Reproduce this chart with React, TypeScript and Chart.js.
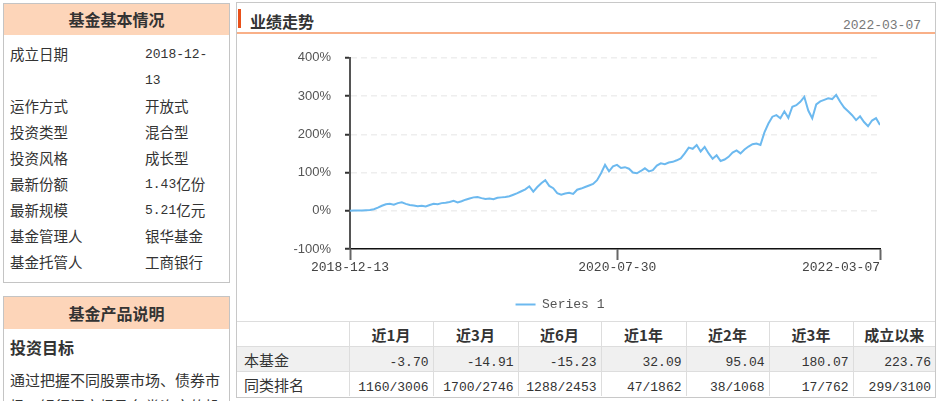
import React, { useEffect, useRef } from 'react';
import { Chart, registerables } from 'chart.js';

Chart.register(...registerables);

// ---------- data ----------
const seriesLabel = 'Series 1';
const startDate = '2018-12-13';
const endDate = '2022-03-07';
const xTickLabels = ['2018-12-13', '2020-07-30', '2022-03-07'];
const yMin = -100;
const yMax = 400;
const yStep = 100;

// cumulative return (%) since inception, sampled evenly over the period
const cumulativeReturn = [
  0, 0.5, 0.5, 1, 1.5, 2, 4, 8, 13, 17, 18, 16, 20, 22, 18, 15, 14, 12, 13, 11,
  15, 18, 17, 20, 21, 23, 26, 22, 25, 29, 32, 35, 36, 33, 31, 32, 30, 34, 35, 36,
  38, 42, 46, 51, 56, 64, 50, 62, 72, 80, 65, 59, 46, 42, 45, 47, 44, 55, 58, 62,
  66, 70, 80, 98, 120, 103, 116, 120, 112, 114, 110, 100, 98, 104, 111, 103, 106, 118, 124, 122,
  126, 128, 132, 137, 150, 165, 162, 172, 155, 167, 150, 136, 145, 130, 134, 141, 152, 158, 150, 160,
  168, 174, 176, 172, 205, 228, 246, 250, 242, 260, 243, 272, 276, 285, 298, 262, 242, 278, 286, 290,
  294, 292, 303, 285, 270, 260, 250, 237, 247, 232, 221, 236, 242, 224,
];

const basicInfoLabels = ['成立日期', '运作方式', '投资类型', '投资风格', '最新份额', '最新规模', '基金管理人', '基金托管人'];
const basicInfoValues = ['2018-12-13', '开放式', '混合型', '成长型', '1.43亿份', '5.21亿元', '银华基金', '工商银行'];

const periodLabels = ['近1月', '近3月', '近6月', '近1年', '近2年', '近3年', '成立以来'];
const rowLabels = ['本基金', '同类排名'];
const fundReturns = ['-3.70', '-14.91', '-15.23', '32.09', '95.04', '180.07', '223.76'];
const peerRanks = ['1160/3006', '1700/2746', '1288/2453', '47/1862', '38/1068', '17/762', '299/3100'];

const updateDate = '2022-03-07';
const descTitle = '投资目标';
const descText = '通过把握不同股票市场、债券市场、银行间市场及各类资产的投资机会，力求实现基金资产的长期稳健增值。';

// ---------- styles ----------
const mono = '"Liberation Mono", "DejaVu Sans Mono", monospace';
const cjk = '"Noto Sans CJK SC", "Noto Sans", sans-serif';
const peach = '#fdd5b9';
const lineColor = '#6cb9ef';

function Mixed({
  text,
  cjkSize = 15,
  monoSize = 13,
  top = false,
}: {
  text: string;
  cjkSize?: number;
  monoSize?: number;
  top?: boolean;
}) {
  const parts = text.split(/([\x20-\x7e]+)/).filter((p) => p.length > 0);
  const extra: React.CSSProperties = top ? { verticalAlign: 'top', lineHeight: '26px' } : {};
  return (
    <>
      {parts.map((p, i) =>
        /^[\x20-\x7e]+$/.test(p) ? (
          <span
            key={i}
            style={{ fontFamily: mono, fontSize: monoSize, ...extra, ...(top ? { position: 'relative', top: 1 } : {}) }}
          >
            {p}
          </span>
        ) : (
          <span key={i} style={{ fontFamily: cjk, fontSize: cjkSize, ...extra }}>{p}</span>
        )
      )}
    </>
  );
}

const dayMs = 86400000;
const toDays = (s: string) => Date.parse(s) / dayMs;
const N = cumulativeReturn.length;
const spanDays = toDays(endDate) - toDays(startDate);
const tickValues = xTickLabels.map((s) => ((toDays(s) - toDays(startDate)) / spanDays) * (N - 1));

const xLabelPlugin = {
  id: 'xTickText',
  afterDraw(chart: any) {
    const scale = chart.scales.x;
    const ctx = chart.ctx;
    ctx.save();
    ctx.font = '13px "Liberation Mono", monospace';
    ctx.fillStyle = '#444';
    ctx.textBaseline = 'middle';
    tickValues.forEach((v, i) => {
      const px = scale.getPixelForValue(v);
      ctx.textAlign = i === tickValues.length - 1 ? 'right' : 'center';
      ctx.fillText(xTickLabels[i], px, scale.top + 19);
    });
    ctx.restore();
  },
};

function PerfChart() {
  const ref = useRef<HTMLCanvasElement | null>(null);
  useEffect(() => {
    if (!ref.current) return;
    const chart = new Chart(ref.current, {
      type: 'line',
      data: {
        labels: cumulativeReturn.map((_, i) => i),
        datasets: [
          {
            label: seriesLabel,
            data: cumulativeReturn,
            borderColor: lineColor,
            backgroundColor: lineColor,
            borderWidth: 2,
            pointRadius: 0,
            tension: 0,
          },
        ],
      },
      options: {
        animation: false,
        responsive: false,
        maintainAspectRatio: false,
        layout: { padding: { top: 20, left: 0, right: 55, bottom: 0 } },
        plugins: {
          tooltip: { enabled: false },
          legend: {
            position: 'bottom',
            labels: {
              boxWidth: 20,
              boxHeight: 2,
              padding: 6,
              color: '#555',
              font: { family: '"Liberation Mono", monospace', size: 13 },
              generateLabels: (c: any) =>
                (Chart as any).defaults.plugins.legend.labels
                  .generateLabels(c)
                  .map((l: any) => ({ ...l, lineWidth: 0, fillStyle: lineColor })),
            },
          },
        },
        scales: {
          x: {
            type: 'linear',
            min: 0,
            max: N - 1,
            afterBuildTicks: (s: any) => {
              s.ticks = tickValues.map((v) => ({ value: v }));
            },
            afterFit: (s: any) => {
              s.height = 43;
            },
            ticks: { display: false },
            grid: { drawOnChartArea: false, drawTicks: true, tickLength: 11, tickColor: '#666', tickWidth: 2 },
            border: { color: '#111', width: 1.5 },
          },
          y: {
            min: yMin,
            max: yMax,
            afterFit: (s: any) => {
              s.width = 110;
            },
            ticks: {
              stepSize: yStep,
              callback: (v: any) => v + '%',
              color: '#555',
              font: { family: '"Liberation Sans", Arial, sans-serif', size: 13 },
              padding: 14,
            },
            grid: { color: '#eee', lineWidth: 1.5, tickColor: '#333', tickWidth: 2, tickLength: 5 },
            border: { color: '#555', width: 2, dash: [6, 4] },
          },
        },
      } as any,
      plugins: [xLabelPlugin],
    });
    return () => chart.destroy();
  }, []);
  return (
    <canvas
      ref={ref}
      width={695}
      height={285}
      style={{ position: 'absolute', left: 240, top: 36, width: 695, height: 285, pointerEvents: 'none' }}
    />
  );
}

const colWidths = [112, 84, 85, 83, 85, 83, 84, 82];

export default function App() {
  const cell: React.CSSProperties = {
    border: '1px solid #ddd',
    padding: 0,
    height: 24,
    color: '#333',
  };
  return (
    <div
      style={{
        position: 'absolute',
        left: 0,
        top: 0,
        width: 940,
        height: 401,
        overflow: 'hidden',
        background: '#fff',
        color: '#333',
        fontFamily: cjk,
      }}
    >
      {/* left box 1 */}
      <div
        style={{
          position: 'absolute',
          left: 3,
          top: 3,
          width: 227,
          height: 280,
          boxSizing: 'border-box',
          border: '1px solid #c4c4c4',
        }}
      >
        <div
          style={{
            height: 31,
            lineHeight: '31px',
            background: peach,
            textAlign: 'center',
            fontWeight: 'bold',
            fontSize: 16,
          }}
        >
          基金基本情况
        </div>
        <div style={{ paddingTop: 6 }}>
          {basicInfoLabels.map((lab, i) => (
            <div key={lab} style={{ display: 'flex', lineHeight: '26px' }}>
              <div style={{ width: 141, paddingLeft: 6, boxSizing: 'border-box', fontSize: 14.5, height: 26 }}>{lab}</div>
              <div style={{ width: 68, wordBreak: 'break-all', fontSize: 13 }}>
                <Mixed text={basicInfoValues[i]} cjkSize={14.5} top />
              </div>
            </div>
          ))}
        </div>
      </div>

      {/* left box 2 */}
      <div
        style={{
          position: 'absolute',
          left: 3,
          top: 296,
          width: 227,
          height: 140,
          boxSizing: 'border-box',
          border: '1px solid #c4c4c4',
        }}
      >
        <div
          style={{
            height: 32,
            lineHeight: '32px',
            background: peach,
            textAlign: 'center',
            fontWeight: 'bold',
            fontSize: 16,
          }}
        >
          基金产品说明
        </div>
        <div style={{ marginTop: 5, paddingLeft: 6, lineHeight: '26px', fontWeight: 'bold', fontSize: 16 }}>{descTitle}</div>
        <div style={{ marginTop: 7, padding: '0 6px', lineHeight: '26px', fontSize: 15 }}>{descText}</div>
      </div>

      {/* right panel */}
      <div
        style={{
          position: 'absolute',
          left: 236,
          top: 2,
          width: 700,
          height: 396,
          boxSizing: 'border-box',
          border: '1px solid #c8c8c8',
        }}
      />
      <div style={{ position: 'absolute', left: 238, top: 9, width: 3, height: 19, background: '#e8501a' }} />
      <div
        style={{ position: 'absolute', left: 250, top: 9, lineHeight: '24px', fontSize: 16, fontWeight: 'bold', color: '#333' }}
      >
        业绩走势
      </div>
      <div style={{ position: 'absolute', left: 843, top: 12, lineHeight: '20px', color: '#777' }}>
        <Mixed text={updateDate} />
      </div>
      <div style={{ position: 'absolute', left: 237, top: 32, width: 698, height: 2, background: '#f9b088' }} />

      <table
        style={{
          position: 'absolute',
          left: 237,
          top: 321,
          width: 698,
          borderCollapse: 'collapse',
          tableLayout: 'fixed',
          borderLeft: 'hidden',
          borderRight: 'hidden',
          borderBottom: 'hidden',
        }}
      >
        <colgroup>
          {colWidths.map((w, i) => (
            <col key={i} style={{ width: w }} />
          ))}
        </colgroup>
        <tbody>
          <tr>
            <td style={{ ...cell }} />
            {periodLabels.map((p) => (
              <td key={p} style={{ ...cell, textAlign: 'center', fontWeight: 'bold', fontSize: 15 }}>
                {p}
              </td>
            ))}
          </tr>
          <tr style={{ background: '#f0f0f0' }}>
            <td style={{ ...cell, paddingLeft: 7, fontSize: 15 }}>{rowLabels[0]}</td>
            {fundReturns.map((v, i) => (
              <td key={i} style={{ ...cell, textAlign: 'right', paddingRight: 4 }}>
                <Mixed text={v} />
              </td>
            ))}
          </tr>
          <tr>
            <td style={{ ...cell, paddingLeft: 7, fontSize: 15 }}>{rowLabels[1]}</td>
            {peerRanks.map((v, i) => (
              <td key={i} style={{ ...cell, textAlign: 'right', paddingRight: 4 }}>
                <Mixed text={v} />
              </td>
            ))}
          </tr>
        </tbody>
      </table>

      <PerfChart />
    </div>
  );
}
